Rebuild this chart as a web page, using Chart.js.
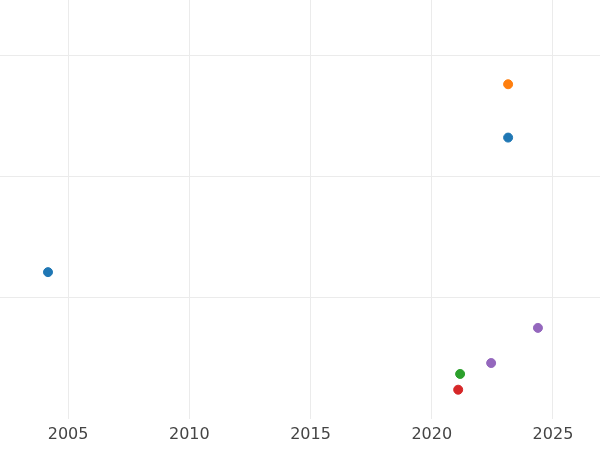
<!DOCTYPE html>
<html>
<head>
<meta charset="utf-8">
<script src="https://cdn.jsdelivr.net/npm/chart.js@4"></script>
<style>
  body { margin: 0; background: #fff; }
  #wrap { width: 600px; height: 450px; }
</style>
</head>
<body>
<div id="wrap"><canvas id="chart"></canvas></div>
<script>
// years and values
const xYears = [2023.15, 2023.15, 2004.17, 2024.38, 2022.45, 2021.17, 2021.09];
const yValues = [2.76, 2.32, 1.21, 0.75, 0.46, 0.37, 0.24];
const pointColors = ['#ff7f0e', '#1f77b4', '#1f77b4', '#9467bd', '#9467bd', '#2ca02c', '#d62728'];
const xTicks = [2005, 2010, 2015, 2020, 2025];
const yGrid = [1, 2, 3];

const points = xYears.map((x, i) => ({ x: x, y: yValues[i] }));

new Chart(document.getElementById('chart'), {
    type: 'scatter',
    data: {
        datasets: [{
            data: points,
            backgroundColor: pointColors,
            borderColor: pointColors,
            pointRadius: 4.5,
            pointHoverRadius: 4.5,
            clip: false
        }]
    },
    options: {
        responsive: true,
        maintainAspectRatio: false,
        animation: false,
        layout: { padding: 0, autoPadding: false },
        plugins: { legend: { display: false }, tooltip: { enabled: false } },
        scales: {
            x: {
                type: 'linear',
                min: 2002.19,
                max: 2026.94,
                afterBuildTicks: axis => { axis.ticks = xTicks.map(v => ({ value: v })); },
                ticks: {
                    color: '#444',
                    font: { family: 'DejaVu Sans', size: 16 },
                    padding: 6,
                    callback: v => String(v)
                },
                grid: { color: '#ebebeb', drawTicks: false },
                border: { display: false }
            },
            y: {
                min: 0,
                max: 3.455,
                afterBuildTicks: axis => { axis.ticks = yGrid.map(v => ({ value: v })); },
                afterFit: axis => { axis.width = 0; },
                ticks: { display: false },
                grid: { color: '#ebebeb', drawTicks: false },
                border: { display: false }
            }
        }
    }
});
</script>
</body>
</html>
